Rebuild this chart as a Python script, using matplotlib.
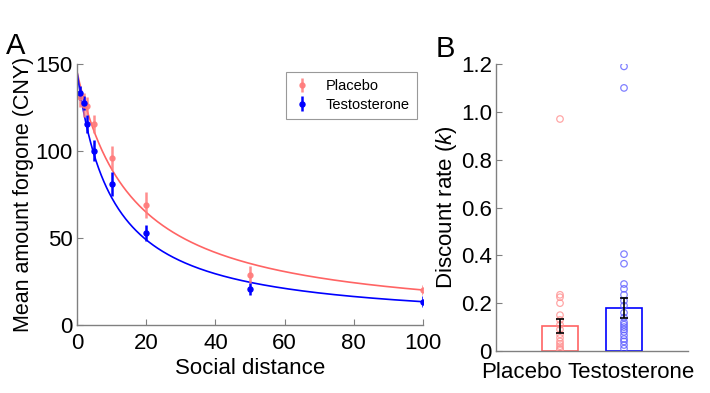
import numpy as np
import matplotlib
matplotlib.use("Agg")
import matplotlib.pyplot as plt

plt.rcParams['font.family'] = ['Liberation Sans', 'DejaVu Sans']
plt.rcParams['mathtext.fontset'] = 'custom'
plt.rcParams['mathtext.it'] = 'Liberation Sans:italic'
plt.rcParams['mathtext.rm'] = 'Liberation Sans'

# ---- Panel A data ----
social_distance = [1, 2, 3, 5, 10, 20, 50, 100]
placebo_mean = [131, 126.5, 125.9, 115.5, 95.8, 69, 29, 20]
placebo_err = [6, 7, 5, 5, 7, 7.5, 5, 3]
testo_mean = [133.5, 127.4, 115.5, 100.2, 80.9, 53, 20.5, 13.4]
testo_err = [4, 4, 5, 6, 7, 4.5, 3.5, 3]
# hyperbolic fit parameters  V / (1 + k N)
fit_V = 145.6
placebo_k_fit = 0.0624
testo_k_fit = 0.0987

# ---- Panel B data ----
groups = ['Placebo', 'Testosterone']
k_mean = [0.105, 0.18]
k_sem = [0.03, 0.04]
placebo_k = [0.97, 0.235, 0.225, 0.20, 0.15, 0.13, 0.11, 0.09, 0.07,
             0.055, 0.04, 0.03, 0.02, 0.01, 0.005]
testo_k = [1.19, 1.10, 0.405, 0.365, 0.28, 0.26, 0.235, 0.21, 0.19, 0.16,
           0.14, 0.12, 0.11, 0.10, 0.09, 0.08, 0.065, 0.05, 0.04, 0.025, 0.01]

RED = '#ff6464'
RED_PT = '#ff7a7a'
BLUE = '#0000ff'
GRAY = '#808080'
FS = 16

fig = plt.figure(figsize=(7.10, 3.93), dpi=100)

# ---------------- Panel A ----------------
axA = fig.add_axes([77/710, 1-325/393, 346/710, 261/393])
xs = np.linspace(0, 100, 400)
axA.plot(xs, fit_V/(1+placebo_k_fit*xs), color=RED, lw=1.2)
axA.plot(xs, fit_V/(1+testo_k_fit*xs), color=BLUE, lw=1.2)
axA.errorbar(social_distance, placebo_mean, yerr=placebo_err, fmt='o',
             color=RED_PT, ms=3.6, elinewidth=1.8, capsize=0, label='Placebo', alpha=0.85)
axA.errorbar(social_distance, testo_mean, yerr=testo_err, fmt='o',
             color=BLUE, ms=3.6, elinewidth=1.8, capsize=0, label='Testosterone')
axA.set_xlim(0, 100)
axA.set_ylim(0, 150)
axA.set_xticks([0, 20, 40, 60, 80, 100])
axA.set_yticks([0, 50, 100, 150])
axA.set_xlabel('Social distance', fontsize=FS, labelpad=3)
axA.set_ylabel('Mean amount forgone (CNY)', fontsize=15.5, labelpad=1)
leg = axA.legend(loc='upper right', bbox_to_anchor=(417/710, 1-72/393),
                 bbox_transform=fig.transFigure, borderaxespad=0, fontsize=10.5,
                 frameon=True, fancybox=False, handlelength=1.2,
                 handletextpad=1.0, borderpad=0.5, labelspacing=0.3)
leg.get_frame().set_edgecolor(GRAY)
leg.get_frame().set_linewidth(0.8)

# ---------------- Panel B ----------------
axB = fig.add_axes([496/710, 1-351/393, 192/710, 287/393])
pos = [1, 2]
axB.bar(pos, k_mean, width=0.56, facecolor='none',
        edgecolor=[RED, BLUE], linewidth=1.2)
axB.scatter([1]*len(placebo_k), placebo_k, s=22, facecolors='none',
            edgecolors='#ff9090', linewidths=0.9, alpha=0.8, zorder=3)
axB.scatter([2]*len(testo_k), testo_k, s=22, facecolors='none',
            edgecolors='#6060ff', linewidths=0.9, alpha=0.8, zorder=3)
axB.errorbar(pos, k_mean, yerr=k_sem, fmt='none', ecolor='black',
             elinewidth=1.2, capsize=3, capthick=1.2, zorder=4)
axB.set_xlim(0, 3)
axB.set_ylim(0, 1.2)
axB.set_yticks([0, 0.2, 0.4, 0.6, 0.8, 1.0, 1.2])
axB.set_yticklabels(['0', '0.2', '0.4', '0.6', '0.8', '1.0', '1.2'])
axB.set_xticks([])
axB.set_ylabel('Discount rate ($k$)', fontsize=FS, labelpad=1)
axB.text((562-496)/192, -0.04, groups[0], transform=axB.transAxes,
         ha='right', va='top', fontsize=FS)
axB.text((567-496)/192, -0.04, groups[1], transform=axB.transAxes,
         ha='left', va='top', fontsize=FS)

for ax in (axA, axB):
    for s in ('top', 'right'):
        ax.spines[s].set_visible(False)
    for s in ('left', 'bottom'):
        ax.spines[s].set_color(GRAY)
        ax.spines[s].set_linewidth(1.0)
    ax.tick_params(direction='in', length=4, color=GRAY, labelsize=FS, pad=3)
axA.tick_params(axis='x', pad=6)

fig.text(6/710, 1-46/393, 'A', fontsize=21, ha='left', va='center')
fig.text(436/710, 1-49/393, 'B', fontsize=21, ha='left', va='center')

fig.savefig('out.png', dpi=100)
